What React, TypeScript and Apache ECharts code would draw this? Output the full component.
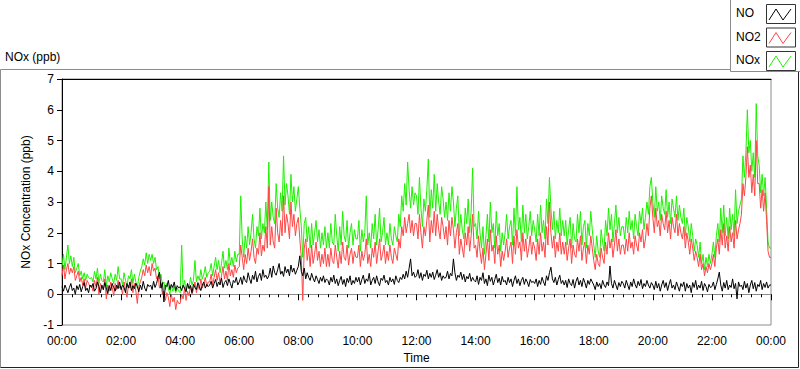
import React, { useEffect, useRef } from "react";
import * as echarts from "echarts";

// 3-minute samples, 20 per hour (two lines per hour), 00:00 .. 24:00
const STEP_MIN = 3;

const noValues: number[] = [
  0.25,0.1,0.3,0.18,0.05,0.22,0.35,0.12,0.2,0.0,
  0.28,0.15,0.32,0.08,0.25,0.38,0.12,0.2,0.05,0.3,
  0.22,0.35,0.1,0.18,0.4,0.25,0.05,0.3,0.15,0.38,
  0.2,0.02,0.28,0.12,0.35,0.22,0.1,0.3,0.18,0.4,
  0.15,0.3,0.22,0.05,0.35,0.2,0.4,0.12,0.28,0.18,
  0.36,0.25,0.08,0.3,0.15,0.42,0.2,0.1,0.32,0.25,
  0.3,0.15,0.42,0.22,0.35,0.55,0.72,0.2,0.38,-0.25,
  0.3,0.25,0.45,0.15,0.32,0.22,0.4,0.12,0.28,0.2,
  0.25,0.12,0.3,0.2,0.08,0.35,0.18,0.28,0.05,0.32,
  0.22,0.15,0.38,0.25,0.12,0.3,0.4,0.2,0.32,0.25,
  0.3,0.42,0.2,0.35,0.48,0.25,0.4,0.3,0.52,0.22,
  0.38,0.45,0.28,0.5,0.35,0.2,0.45,0.38,0.55,0.3,
  0.4,0.55,0.32,0.6,0.45,0.38,0.7,0.5,0.35,0.62,
  0.48,0.75,0.4,0.58,0.68,0.45,0.8,0.55,0.62,0.5,
  0.6,0.85,0.55,0.92,0.7,0.62,0.8,1.0,0.65,0.75,
  0.58,0.9,0.7,0.82,0.6,0.95,0.72,0.85,0.65,0.78,
  0.9,1.25,0.75,0.6,0.85,0.5,0.7,0.55,0.45,0.68,
  0.52,0.4,0.6,0.48,0.35,0.55,0.42,0.6,0.38,0.5,
  0.45,0.3,0.55,0.4,0.62,0.35,0.5,0.28,0.45,0.58,
  0.32,0.48,0.25,0.52,0.38,0.6,0.3,0.45,0.35,0.55,
  0.4,0.55,0.3,0.48,0.62,0.35,0.5,0.42,0.68,0.3,
  0.45,0.55,0.35,0.6,0.4,0.28,0.52,0.45,0.62,0.38,
  0.45,0.3,0.55,0.4,0.5,0.32,0.6,0.45,0.38,0.55,
  0.48,0.65,0.5,0.75,0.55,0.85,1.15,0.6,0.72,0.55,
  0.6,0.8,0.52,0.7,0.45,0.65,0.58,0.78,0.5,0.68,
  0.55,0.72,0.48,0.62,0.8,0.55,0.7,0.45,0.6,0.52,
  0.55,0.75,0.5,0.68,0.6,1.15,0.7,0.45,0.62,0.55,
  0.72,0.48,0.65,0.4,0.58,0.5,0.68,0.42,0.55,0.45,
  0.4,0.6,0.32,0.55,0.45,0.7,0.35,0.5,0.28,0.62,
  0.42,0.55,0.3,0.48,0.65,0.38,0.52,0.3,0.58,0.4,
  0.45,0.3,0.55,0.38,0.5,0.25,0.45,0.6,0.35,0.5,
  0.28,0.45,0.55,0.32,0.5,0.4,0.25,0.48,0.38,0.42,
  0.35,0.5,0.25,0.45,0.32,0.55,0.4,0.28,0.6,0.45,
  0.7,0.88,0.5,0.38,0.55,0.3,0.48,0.62,0.35,0.45,
  0.3,0.45,0.22,0.5,0.35,0.28,0.48,0.2,0.42,0.55,
  0.3,0.45,0.25,0.52,0.38,0.2,0.45,0.32,0.5,0.4,
  0.3,0.15,0.4,0.25,0.35,0.18,0.45,0.3,0.22,0.4,
  0.28,0.92,0.35,0.2,0.45,0.3,0.15,0.38,0.25,0.42,
  0.35,0.2,0.45,0.3,0.15,0.4,0.25,0.5,0.32,0.2,
  0.42,0.28,0.48,0.18,0.35,0.25,0.45,0.3,0.2,0.38,
  0.3,0.15,0.42,0.2,0.35,0.1,0.3,0.45,0.22,0.38,
  0.12,0.32,0.48,0.2,0.3,0.15,0.4,0.25,0.1,0.35,
  0.25,0.4,0.1,0.35,0.2,0.3,0.05,0.38,0.22,0.45,
  0.15,0.3,0.2,0.42,0.12,0.35,0.25,0.08,0.32,0.22,
  0.25,0.4,0.15,0.32,0.5,0.72,0.3,0.1,0.38,0.2,
  0.45,0.15,0.3,0.22,0.5,0.18,0.35,-0.15,0.4,0.25,
  0.3,0.15,0.42,0.2,0.35,0.05,0.3,0.45,0.18,0.38,
  0.1,0.32,0.25,0.45,0.15,0.35,0.22,0.4,0.2,0.3,
  0.3,
];

const no2Values: number[] = [
  0.6,0.95,0.5,0.8,1.0,0.65,0.85,0.7,0.9,0.45,
  0.6,0.75,0.4,0.55,0.3,0.5,0.2,0.45,0.35,0.25,
  0.3,0.1,0.45,0.25,0.55,0.0,0.35,0.2,0.15,0.5,
  -0.15,0.3,0.1,0.4,0.22,-0.05,0.35,0.15,0.45,0.2,
  0.25,0.0,0.4,0.15,-0.1,0.3,0.2,0.5,0.05,0.35,
  0.1,-0.3,0.25,0.4,0.55,0.8,0.6,0.95,0.7,0.9,
  0.6,1.0,0.75,0.85,0.5,0.6,0.2,0.35,0.0,0.1,
  -0.2,0.05,-0.1,-0.4,0.0,-0.25,-0.1,-0.5,-0.2,-0.3,
  -0.3,0.0,-0.15,0.2,-0.2,0.1,-0.05,0.3,0.0,0.15,
  0.4,0.05,0.3,0.15,0.5,0.2,0.35,0.55,0.25,0.4,
  0.4,0.65,0.3,0.55,0.8,0.45,0.7,0.35,0.6,0.9,
  0.5,0.75,0.45,1.0,0.6,0.8,0.55,0.95,0.7,0.85,
  0.9,1.6,1.2,0.8,1.3,1.0,1.5,1.1,1.4,1.8,
  1.2,1.0,1.5,1.3,2.0,1.25,1.6,1.4,2.2,1.5,
  3.5,1.6,2.2,1.7,1.5,2.8,2.0,1.7,2.4,1.9,
  3.2,2.0,2.6,2.3,1.8,3.0,2.2,2.6,1.9,2.3,
  2.5,1.8,1.2,-0.2,1.5,1.8,1.1,1.5,0.9,1.6,
  1.0,1.3,1.7,1.1,1.4,0.9,1.3,1.0,1.5,0.9,
  1.3,0.9,1.5,1.1,1.0,1.6,1.2,0.85,1.4,1.0,
  1.7,1.2,1.1,1.6,0.95,1.3,1.5,1.0,1.4,1.2,
  1.2,1.6,0.9,1.4,1.1,1.3,1.8,1.0,1.3,0.9,
  1.5,1.2,1.7,1.0,1.4,1.8,1.1,1.3,1.6,1.0,
  1.4,1.1,1.6,1.2,1.0,1.5,1.3,1.1,1.8,1.5,
  2.2,1.9,2.5,2.0,2.3,2.6,2.0,2.4,1.9,2.3,
  2.3,1.8,2.6,2.0,1.5,2.2,1.9,2.4,2.9,1.7,
  2.4,2.0,2.7,1.9,2.6,2.1,1.8,2.5,2.2,1.8,
  2.2,1.6,2.4,1.9,2.5,2.1,1.5,2.0,2.3,1.3,
  1.8,1.5,1.2,2.0,1.6,2.2,1.4,1.9,2.6,1.5,
  1.6,1.2,1.9,1.4,1.0,1.5,0.8,1.3,1.8,1.1,
  2.1,1.4,1.6,1.0,1.9,1.3,1.6,0.9,1.4,1.1,
  1.4,1.8,1.2,1.5,1.7,1.0,1.9,1.3,2.1,1.5,
  1.7,1.1,2.0,1.4,1.8,1.2,1.5,1.9,1.3,1.7,
  1.5,1.1,1.8,1.3,2.0,1.4,1.7,1.2,2.2,1.6,
  3.0,2.0,1.5,1.9,1.2,1.7,1.4,2.0,1.3,1.7,
  1.3,1.7,1.1,1.5,1.8,1.0,1.6,1.3,1.2,1.8,
  1.4,1.9,1.1,1.5,1.7,1.0,1.6,1.3,1.9,1.5,
  1.1,0.8,1.3,1.0,0.9,1.5,1.2,1.0,1.7,1.3,
  2.0,1.5,1.8,1.2,1.6,2.1,1.4,1.8,1.3,1.6,
  1.6,1.3,1.8,1.4,2.0,1.5,1.7,1.3,1.9,1.6,
  1.4,2.0,1.7,2.1,1.5,1.8,2.3,1.9,2.8,3.2,
  2.5,2.0,2.8,2.2,2.4,1.9,2.6,2.3,2.1,2.7,
  2.0,2.4,1.8,2.5,2.2,2.0,2.6,1.9,2.3,2.0,
  1.8,2.2,1.5,2.0,1.7,1.3,1.8,1.5,1.1,1.4,
  1.2,0.9,1.3,0.8,1.0,0.6,0.9,0.7,1.0,0.8,
  1.0,1.3,0.9,1.5,1.8,1.3,2.1,1.6,2.3,1.5,
  1.9,1.4,2.2,1.7,2.0,1.5,2.4,1.8,2.1,2.3,
  2.6,3.6,3.2,3.8,4.8,3.8,4.2,3.3,3.9,3.2,
  5.0,3.6,3.6,2.8,3.4,2.7,3.3,2.4,1.4,1.2,
  1.2,
];

const noxValues: number[] = [
  0.9,1.3,0.8,1.2,1.6,1.0,1.25,0.9,1.2,0.7,
  0.85,1.0,0.6,0.75,0.5,0.7,0.45,0.65,0.55,0.5,
  0.55,0.4,0.75,0.5,0.85,0.35,0.65,0.45,0.4,0.8,
  0.25,0.6,0.4,0.7,0.5,0.35,0.65,0.45,0.9,0.5,
  0.5,0.3,0.7,0.45,0.25,0.6,0.5,0.8,0.35,0.65,
  0.4,0.2,0.55,0.75,0.9,1.15,0.95,1.35,1.0,1.3,
  1.1,1.3,1.0,1.2,0.8,0.9,0.5,0.65,0.3,0.4,
  0.15,0.35,0.2,0.0,0.3,0.1,0.25,0.05,0.2,0.1,
  0.05,1.6,0.2,0.45,0.1,0.35,0.2,0.55,0.3,0.45,
  1.1,0.4,0.6,0.45,0.8,0.5,0.65,0.9,0.55,0.7,
  0.75,1.0,0.6,0.9,1.2,0.8,1.1,0.7,1.0,1.4,
  0.85,1.1,0.8,1.5,0.95,1.2,0.9,1.4,1.05,1.3,
  1.3,3.2,1.8,1.2,1.9,1.5,2.2,1.6,2.0,2.6,
  1.8,1.5,2.2,1.9,2.8,1.8,2.3,2.0,3.0,2.1,
  4.3,2.4,3.0,2.5,2.3,3.6,2.8,2.5,3.3,2.7,
  4.5,2.9,3.6,3.2,2.6,3.9,3.0,3.5,2.7,3.1,
  3.5,2.8,2.2,1.2,2.3,2.5,1.7,2.2,1.5,2.3,
  1.6,2.0,2.4,1.7,2.1,1.5,2.0,1.6,2.2,1.5,
  2.0,1.5,2.3,1.7,1.6,2.6,1.9,1.4,2.2,1.6,
  2.7,1.9,1.7,2.4,1.5,2.0,2.3,1.6,2.1,1.8,
  1.8,2.4,1.4,2.1,1.7,2.0,3.2,1.6,2.0,1.5,
  2.3,1.8,2.6,1.6,2.1,2.8,1.7,2.0,2.5,1.6,
  2.0,1.6,2.3,1.8,1.6,2.2,1.9,1.7,2.6,2.2,
  3.2,2.7,3.6,2.9,4.3,3.4,2.8,3.5,2.9,3.3,
  3.2,2.6,3.8,2.8,2.2,3.1,2.7,3.4,4.4,2.5,
  3.4,2.8,3.9,2.7,3.6,3.0,2.6,3.5,3.1,2.5,
  3.0,2.4,3.3,2.7,3.5,3.0,2.2,2.8,3.2,1.9,
  2.6,2.1,1.8,2.8,2.3,3.1,2.0,2.7,4.1,2.2,
  2.3,1.8,2.7,2.0,1.5,2.2,1.3,1.9,2.6,1.7,
  3.0,2.0,2.3,1.5,2.7,1.9,2.3,1.4,2.0,1.6,
  2.0,2.6,1.8,2.2,2.4,1.6,2.8,1.9,3.5,2.1,
  2.5,1.7,2.9,2.0,2.6,1.8,2.2,2.7,1.9,2.4,
  2.1,1.7,2.6,1.9,2.9,2.0,2.4,1.8,3.1,2.3,
  3.8,2.8,2.1,2.7,1.8,2.4,2.0,2.8,1.9,2.4,
  1.9,2.4,1.6,2.1,2.5,1.5,2.3,1.8,1.7,2.6,
  2.0,2.7,1.6,2.2,2.4,1.5,2.3,1.9,2.7,2.1,
  1.6,1.2,1.9,1.4,1.2,2.1,1.7,1.4,2.4,1.9,
  2.8,2.1,2.6,1.7,2.3,2.9,2.0,2.5,1.9,2.2,
  2.2,1.8,2.5,2.0,2.7,2.1,2.4,1.8,2.6,2.2,
  1.9,2.7,2.3,2.8,2.1,2.5,3.0,2.6,3.5,3.8,
  3.0,2.5,3.5,2.7,3.0,2.4,3.2,2.8,2.6,3.4,
  2.5,3.0,2.3,3.1,2.8,2.5,3.2,2.4,2.9,2.5,
  2.3,2.8,1.9,2.5,2.2,1.7,2.3,1.9,1.4,1.8,
  1.6,1.2,1.7,1.0,1.3,0.8,1.2,0.9,1.3,1.0,
  1.3,1.7,1.2,1.9,2.3,1.7,2.8,2.0,2.9,1.9,
  2.5,1.8,2.8,2.1,2.6,1.9,3.4,2.3,2.7,2.9,
  3.1,4.5,3.8,4.6,6.0,4.6,5.0,4.0,4.6,3.8,
  6.2,4.5,4.2,3.3,3.9,3.2,3.8,2.8,1.7,1.5,
  1.5,
];

const seriesNames = ["NO", "NO2", "NOx"];
const seriesColors = ["#000000", "#FF4545", "#1EF000"];
const yTicks = { min: -1, max: 7, interval: 1 };
const xTicks = { min: 0, max: 1440, interval: 120 };

const fmtTime = (m: number) => {
  const h = Math.floor(m / 60) % 24;
  const mm = Math.round(m % 60);
  return `${String(h).padStart(2, "0")}:${String(mm).padStart(2, "0")}`;
};

const toPairs = (vals: number[]) => vals.map((v, i) => [i * STEP_MIN, v]);

const FONT = "Liberation Sans, Arial, sans-serif";

export default function App() {
  const ref = useRef<HTMLDivElement>(null);
  useEffect(() => {
    if (!ref.current) return;
    const chart = echarts.init(ref.current, undefined, { renderer: "svg" });

    const legendItems: any[] = [];
    seriesNames.forEach((name, i) => {
      const y0 = 4 + i * 23.5;
      legendItems.push({
        type: "text",
        left: 736,
        top: y0 + 3,
        style: { text: name, fill: "#000", font: `12px ${FONT}` },
      });
      legendItems.push({
        type: "rect",
        shape: { x: 766.5, y: y0 + 0.5, width: 29, height: 19 },
        style: { fill: "#fff", stroke: "#333", lineWidth: 1 },
      });
      legendItems.push({
        type: "polyline",
        shape: {
          points: [
            [769, y0 + 16],
            [776, y0 + 5],
            [783, y0 + 16],
            [791, y0 + 5],
          ],
        },
        style: { stroke: seriesColors[i], lineWidth: 1, fill: null },
      });
    });

    chart.setOption({
      animation: false,
      backgroundColor: "#fff",
      textStyle: { fontFamily: FONT },
      grid: {
        left: 62,
        right: 29,
        top: 79,
        bottom: 40,
        show: true,
        borderColor: "#8c8c8c",
        borderWidth: 1,
        backgroundColor: "#fff",
      },
      graphic: [
        { type: "line", shape: { x1: 0.5, y1: 69.5, x2: 730, y2: 69.5 }, style: { stroke: "#8c8c8c", lineWidth: 1 } },
        { type: "line", shape: { x1: 0.5, y1: 69.5, x2: 0.5, y2: 367.5 }, style: { stroke: "#8c8c8c", lineWidth: 1 } },
        { type: "line", shape: { x1: 0.5, y1: 367.5, x2: 798.5, y2: 367.5 }, style: { stroke: "#222", lineWidth: 1 } },
        { type: "line", shape: { x1: 798.5, y1: 72, x2: 798.5, y2: 367.5 }, style: { stroke: "#222", lineWidth: 1 } },
        { type: "rect", shape: { x: 730.5, y: -1, width: 70, height: 72.5 }, style: { fill: "#fff", stroke: "#8c8c8c", lineWidth: 1 } },
        ...legendItems,
        { type: "text", left: 5, top: 51, style: { text: "NOx (ppb)", fill: "#000", font: `12px ${FONT}` } },
      ],
      xAxis: [
        {
          type: "value",
          min: xTicks.min,
          max: xTicks.max,
          interval: xTicks.interval,
          name: "Time",
          nameLocation: "middle",
          nameGap: 27,
          nameTextStyle: { color: "#000", fontSize: 12, fontFamily: FONT },
          axisLine: { show: true, lineStyle: { color: "#8c8c8c" } },
          axisTick: { show: true, length: 6, lineStyle: { color: "#000" } },
          minorTick: { show: true, splitNumber: 6, length: 3, lineStyle: { color: "#000" } },
          axisLabel: { formatter: (v: number) => fmtTime(v), color: "#000", fontSize: 12, margin: 10 },
          splitLine: { show: false },
        },
        {
          type: "value",
          position: "top",
          min: xTicks.min,
          max: xTicks.max,
          axisLine: { show: true, lineStyle: { color: "#000" } },
          axisTick: { show: false },
          axisLabel: { show: false },
          splitLine: { show: false },
        },
      ],
      yAxis: {
        type: "value",
        min: yTicks.min,
        max: yTicks.max,
        interval: yTicks.interval,
        name: "NOx Concentration (ppb)",
        nameLocation: "middle",
        nameGap: 24,
        nameTextStyle: { color: "#000", fontSize: 12, fontFamily: FONT },
        axisLine: { show: true, lineStyle: { color: "#000" } },
        axisTick: { show: true, length: 5, lineStyle: { color: "#000" } },
        axisLabel: { color: "#000", fontSize: 12, margin: 8 },
        splitLine: { show: false },
      },
      series: [
        {
          name: "NOx",
          type: "line",
          data: toPairs(noxValues),
          showSymbol: false,
          lineStyle: { color: seriesColors[2], width: 1 },
          itemStyle: { color: seriesColors[2] },
          z: 2,
        },
        {
          name: "NO2",
          type: "line",
          data: toPairs(no2Values),
          showSymbol: false,
          lineStyle: { color: seriesColors[1], width: 1 },
          itemStyle: { color: seriesColors[1] },
          z: 3,
        },
        {
          name: "NO",
          type: "line",
          data: toPairs(noValues),
          showSymbol: false,
          lineStyle: { color: seriesColors[0], width: 1 },
          itemStyle: { color: seriesColors[0] },
          z: 4,
        },
      ],
    });
    return () => chart.dispose();
  }, []);

  return (
    <div
      ref={ref}
      style={{ position: "fixed", left: 0, top: 0, width: 800, height: 369 }}
    />
  );
}
